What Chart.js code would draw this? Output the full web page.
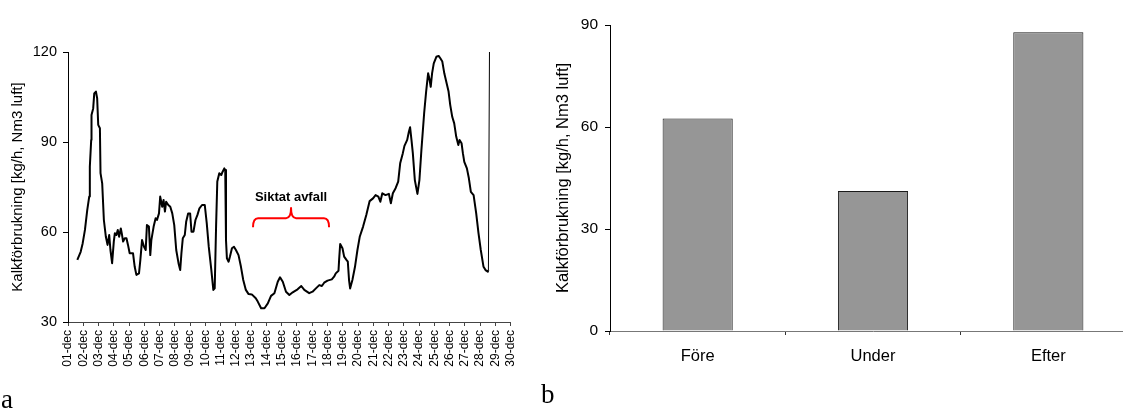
<!DOCTYPE html>
<html>
<head>
<meta charset="utf-8">
<script src="https://cdn.jsdelivr.net/npm/chart.js@4"></script>
<style>
  html, body { margin: 0; padding: 0; background: #fff; overflow: hidden; width: 1123px; height: 408px; }
  #wrapA { position: absolute; left: 0; top: 0; width: 540px; height: 408px; }
  #wrapB { position: absolute; left: 540px; top: 0; width: 596px; height: 408px; }
  .panel { position: absolute; font-family: "Liberation Serif", "DejaVu Serif", serif; font-size: 27px; color: #000; line-height: 1; }
</style>
</head>
<body>
<div id="wrapA"><canvas id="chartA" width="540" height="408"></canvas></div>
<div id="wrapB"><canvas id="chartB" width="596" height="408"></canvas></div>
<div class="panel" style="left:1px; top:386px;">a</div>
<div class="panel" style="left:541px; top:381px;">b</div>
<script>
// ---- Panel a: time series (days since 01-dec 00:00) ----
const dayLabels = ["01-dec","02-dec","03-dec","04-dec","05-dec","06-dec","07-dec","08-dec","09-dec","10-dec",
  "11-dec","12-dec","13-dec","14-dec","15-dec","16-dec","17-dec","18-dec","19-dec","20-dec",
  "21-dec","22-dec","23-dec","24-dec","25-dec","26-dec","27-dec","28-dec","29-dec","30-dec"];
const lineTimes = [0.61,0.83,0.96,1.11,1.26,1.39,1.43,1.52,1.54,1.65,1.72,1.83,1.91,1.98,2.09,2.13,2.24,2.35,2.48,2.59,
  2.70,2.78,2.89,3.0,3.07,3.17,3.26,3.35,3.46,3.52,3.61,3.72,3.83,3.93,4.04,4.15,4.26,4.37,4.48,4.65,
  4.74,4.85,4.98,5.09,5.17,5.3,5.39,5.46,5.61,5.74,5.83,5.96,6.04,6.17,6.26,6.35,6.43,6.57,6.7,6.83,
  6.96,7.09,7.24,7.35,7.43,7.52,7.65,7.74,7.87,8.0,8.09,8.22,8.35,8.48,8.61,8.78,8.96,9.09,9.22,9.39,
  9.52,9.61,9.7,9.78,9.91,10.04,10.13,10.24,10.3,10.35,10.41,10.52,10.61,10.74,10.87,11.0,11.17,11.33,11.48,11.65,
  11.83,12.04,12.3,12.43,12.65,12.87,13.09,13.3,13.52,13.74,13.89,14.07,14.28,14.5,14.72,15.04,15.28,15.48,15.8,16.02,
  16.24,16.46,16.63,16.78,17.0,17.28,17.43,17.54,17.72,17.76,17.83,17.98,18.09,18.24,18.33,18.41,18.48,18.63,18.8,18.96,
  19.11,19.33,19.54,19.76,19.98,20.15,20.33,20.46,20.59,20.8,21.02,21.15,21.28,21.46,21.63,21.76,21.93,22.04,22.22,22.33,
  22.41,22.5,22.59,22.72,22.89,23.02,23.15,23.33,23.46,23.59,23.67,23.76,23.85,23.96,24.13,24.28,24.39,24.52,24.65,24.78,
  24.93,25.04,25.17,25.3,25.43,25.57,25.65,25.78,25.87,25.96,26.13,26.26,26.39,26.57,26.74,26.89,27.04,27.22,27.35,27.5,
  27.54,27.61];
const lineValues = [50.7,53.4,56.2,60.7,67.3,71.8,81.8,90.7,99,101.2,106.2,106.8,104.6,95.7,94.6,79.6,76.2,64,58.4,55.7,
  59,54,49.6,56.8,59.6,59,60.7,58.4,61.2,59.6,56.8,57.9,57.9,55.7,52.9,52.9,52.9,48.4,45.7,46.2,
  50.7,57.3,55.1,54,62.3,61.8,52.3,57.3,61.8,64.6,64,66.2,71.8,68.4,70.7,66.8,70.1,69,68.4,66.2,
  62.3,54,49.6,47.3,52.9,57.9,59,63.4,66.2,66.2,60.1,60.1,64,65.7,67.9,69,69,62.9,55.1,47.3,
  40.7,41.2,61.8,76.8,79.6,79,80.1,81.2,80.7,57.3,51.2,50.1,51.8,54.6,55.1,54,52.3,48.4,44,40.7,
  39.3,39.2,37.9,36.8,34.6,34.6,36.2,38.7,39.6,43.4,44.9,43.4,40.1,39,39.9,40.9,42,40.7,39.6,40.1,
  41.2,42.3,42,43.1,43.8,44.2,45.1,46.2,47.1,50.7,56,54.6,51.8,50.7,50.1,44,41.2,44,48.4,54,
  58.4,61.8,65.7,70.3,71.2,72.3,71.8,70.1,72.9,72.3,72.7,69.6,72.9,74.6,76.8,82.9,86.2,88.7,90.7,93.4,
  94.9,90.7,86.2,77.3,72.7,77.3,87.3,99.6,106.8,112.9,111.2,108.4,112.9,116.2,118.4,118.7,117.9,116.8,112.9,110.1,
  106.8,102.3,98.4,96.2,91.8,89,90.7,89.6,86.2,83.4,81.2,77.9,73.4,72.3,66.2,59.6,54,48.4,47.3,46.8,
  47.3,120];
const yTicksA = [30, 60, 90, 120];
const annotationText = "Siktat avfall";
const braceFrom = 12.12, braceTo = 17.1, braceLevel = 64.6, braceEndLevel = 61.6, braceTipLevel = 68.0, annotationLevel = 71.4;

// ---- Panel b: bars ----
const barCategories = ["Före", "Under", "Efter"];
const barValues = [62.5, 41.2, 87.9];
const yTicksB = [0, 30, 60, 90];

const yTitle = "Kalkförbrukning [kg/h, Nm3 luft]";
const FONT = "'Liberation Sans', Arial, sans-serif";

const bracePlugin = {
  id: 'brace',
  afterDatasetsDraw(chart) {
    const xs = chart.scales.x, ys = chart.scales.y, ctx = chart.ctx;
    const x0 = xs.getPixelForValue(braceFrom), x1 = xs.getPixelForValue(braceTo);
    const xm = (x0 + x1) / 2;
    const yl = ys.getPixelForValue(braceLevel), ye = ys.getPixelForValue(braceEndLevel), yt = ys.getPixelForValue(braceTipLevel);
    const r = 5;
    ctx.save();
    ctx.strokeStyle = '#ff0000';
    ctx.lineWidth = 2;
    ctx.lineJoin = 'round';
    ctx.beginPath();
    ctx.moveTo(x0, ye);
    ctx.quadraticCurveTo(x0, yl, x0 + r, yl);
    ctx.lineTo(xm - r, yl);
    ctx.quadraticCurveTo(xm, yl, xm, yt);
    ctx.quadraticCurveTo(xm, yl, xm + r, yl);
    ctx.lineTo(x1 - r, yl);
    ctx.quadraticCurveTo(x1, yl, x1, ye);
    ctx.stroke();
    ctx.fillStyle = '#000';
    ctx.font = "bold 13px " + FONT;
    ctx.textAlign = 'center';
    ctx.textBaseline = 'middle';
    ctx.fillText(annotationText, xm, ys.getPixelForValue(annotationLevel));
    ctx.restore();
  }
};

const lastIdx = lineTimes.length - 1;
new Chart(document.getElementById('chartA'), {
  type: 'line',
  data: {
    datasets: [{
      data: lineTimes.map((t, i) => ({ x: t, y: lineValues[i] })),
      borderColor: '#000',
      borderWidth: 2,
      pointRadius: 0,
      tension: 0,
      borderJoinStyle: 'round',
      segment: { borderWidth: c => (c.p1DataIndex === lastIdx ? 1 : 2) }
    }]
  },
  options: {
    responsive: false,
    animation: false,
    devicePixelRatio: 1,
    layout: { padding: { top: 52, right: 29.3, left: 0, bottom: 0 } },
    plugins: { legend: { display: false }, tooltip: { enabled: false } },
    scales: {
      x: {
        type: 'linear', min: 0, max: 29,
        afterFit: s => { s.height = 86; },
        afterBuildTicks: s => { s.ticks = dayLabels.map((l, i) => ({ value: i })); },
        ticks: {
          autoSkip: false, minRotation: 90, maxRotation: 90, padding: 4,
          color: '#000', font: { family: FONT, size: 12 },
          callback: v => dayLabels[v]
        },
        grid: { drawOnChartArea: false, drawTicks: true, tickLength: 4, color: '#444' },
        border: { color: '#444', width: 1 }
      },
      y: {
        min: 30, max: 120,
        afterFit: s => { s.width = 68; },
        afterBuildTicks: s => { s.ticks = yTicksA.map(v => ({ value: v })); },
        ticks: { padding: 6, color: '#000', font: { family: FONT, size: 14.5 } },
        grid: { drawOnChartArea: false, drawTicks: true, tickLength: 5, color: '#000' },
        border: { color: '#000', width: 1 },
        title: { display: true, text: yTitle, color: '#000', font: { family: FONT, size: 15 }, padding: { top: 9, bottom: 0 } }
      }
    }
  },
  plugins: [bracePlugin]
});

new Chart(document.getElementById('chartB'), {
  type: 'bar',
  data: {
    labels: barCategories,
    datasets: [{
      data: barValues,
      backgroundColor: '#969696',
      borderColor: '#1a1a1a',
      borderWidth: 1,
      categoryPercentage: 1,
      barPercentage: 0.4
    }]
  },
  options: {
    responsive: false,
    animation: false,
    devicePixelRatio: 1,
    layout: { padding: { top: 25, right: 0, left: 0, bottom: 0 } },
    plugins: { legend: { display: false }, tooltip: { enabled: false } },
    scales: {
      x: {
        afterFit: s => { s.height = 77; },
        ticks: { padding: 12, color: '#000', font: { family: FONT, size: 16.5 } },
        grid: { drawOnChartArea: false, drawTicks: true, tickLength: 4, color: '#333', offset: true },
        border: { color: '#777', width: 1 }
      },
      y: {
        min: 0, max: 90,
        afterFit: s => { s.width = 70; },
        afterBuildTicks: s => { s.ticks = yTicksB.map(v => ({ value: v })); },
        ticks: { padding: 7, color: '#000', font: { family: FONT, size: 15.5 } },
        grid: { drawOnChartArea: false, drawTicks: true, tickLength: 5, color: '#000' },
        border: { color: '#000', width: 1 },
        title: { display: true, text: yTitle, color: '#000', font: { family: FONT, size: 16.5 }, padding: { top: 14, bottom: 0 } }
      }
    }
  }
});
</script>
</body>
</html>
